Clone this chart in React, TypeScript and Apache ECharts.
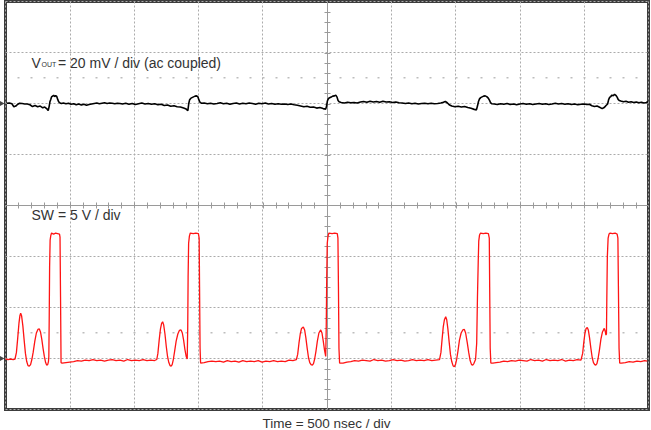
import React, { useEffect, useRef } from "react";
import * as echarts from "echarts";

// Time axis: 0..5000 ns (10 div x 500 ns)
const TIME_MIN = 0;
const TIME_MAX = 5000;
const TIME_DIV = 500;

// SW axis: 5 V/div, ground 1 div above bottom
const SW_MIN = -5;
const SW_MAX = 35;
const SW_DIV = 5;

// VOUT axis: 20 mV/div, ground 2 div below top
const VOUT_MIN = -120;
const VOUT_MAX = 40;
const VOUT_DIV = 20;

const LABEL_VOUT_MAIN = "V";
const LABEL_VOUT_SUB = "OUT";
const LABEL_VOUT_REST = "= 20 mV / div (ac coupled)";
const LABEL_SW = "SW = 5 V / div";
const LABEL_TIME = "Time = 500 nsec / div";

// [time ns, volts]
const swTrace: number[][] = [
  [0, -0.05], [20, -0.1], [40, -0.05], [60, -0.1], [74, -0.05],
  [85, 0.6], [95, 2.0], [105, 3.5], [112, 4.2], [118, 4.45], [125, 4.2], [135, 3.2], [145, 1.8], [155, 0.5],
  [165, -0.3], [175, -0.7], [185, -0.75], [195, -0.6], [205, -0.1], [215, 0.6], [228, 1.7], [240, 2.5],
  [252, 2.85], [263, 2.9], [272, 2.6], [282, 1.9], [292, 1.0], [302, 0.2], [312, -0.4], [320, -0.65],
  [328, -0.6], [334, -0.3],
  [337, 0.2], [340, 4.0], [343, 9.0], [347, 11.6], [352, 12.05], [358, 12.3], [375, 12.2], [390, 12.3],
  [405, 12.25], [420, 12.2], [424, 11.9], [428, 6.0], [432, -0.4],
  [440, -0.45], [470, -0.4], [500, -0.35], [530, -0.3], [560, -0.2], [590, -0.25], [620, -0.15], [650, -0.2],
  [680, -0.1], [710, -0.2], [740, -0.15], [770, -0.25], [800, -0.15], [830, -0.1], [860, -0.2], [890, -0.15],
  [920, -0.25], [950, -0.1], [980, -0.2], [1010, -0.15], [1040, -0.2], [1070, -0.1], [1100, -0.2],
  [1130, -0.15], [1160, -0.2], [1176, -0.1],
  [1185, 0.5], [1195, 1.8], [1205, 2.9], [1214, 3.45], [1222, 3.6], [1230, 3.3], [1240, 2.4], [1250, 1.2],
  [1260, 0.2], [1270, -0.4], [1280, -0.7], [1288, -0.75], [1296, -0.6], [1305, -0.1], [1315, 0.7],
  [1327, 1.7], [1340, 2.4], [1352, 2.75], [1365, 2.8], [1375, 2.5], [1385, 1.8], [1395, 0.9], [1405, 0.2],
  [1413, -0.05],
  [1417, 3.0], [1420, 8.0], [1424, 11.3], [1430, 12.0], [1437, 12.3], [1460, 12.25], [1480, 12.3],
  [1500, 12.25], [1506, 11.8], [1509, 7.0], [1513, 1.0], [1517, -0.45],
  [1520, -0.45], [1545, -0.4], [1575, -0.3], [1605, -0.25], [1635, -0.3], [1665, -0.25], [1695, -0.35],
  [1725, -0.2], [1755, -0.3], [1785, -0.25], [1815, -0.35], [1845, -0.2], [1875, -0.3], [1905, -0.25],
  [1935, -0.3], [1965, -0.2], [1995, -0.35], [2025, -0.25], [2055, -0.3], [2085, -0.2], [2115, -0.3],
  [2145, -0.25], [2175, -0.3], [2205, -0.15], [2235, -0.2], [2262, -0.1],
  [2272, 0.4], [2282, 1.5], [2292, 2.4], [2302, 2.95], [2316, 3.1], [2326, 2.8], [2336, 2.0], [2346, 1.0],
  [2356, 0.1], [2366, -0.4], [2376, -0.6], [2386, -0.65], [2395, -0.5], [2404, -0.05], [2414, 0.7],
  [2425, 1.7], [2437, 2.5], [2451, 2.8], [2461, 2.5], [2471, 1.7], [2481, 0.8], [2490, 0.2],
  [2494, 3.0], [2498, 8.0], [2502, 11.3], [2508, 12.0], [2515, 12.3], [2540, 12.25], [2560, 12.3],
  [2580, 12.25], [2585, 11.8], [2589, 7.0], [2593, 1.0], [2598, -0.45],
  [2625, -0.45], [2655, -0.35], [2685, -0.3], [2715, -0.2], [2745, -0.25], [2775, -0.15], [2805, -0.2],
  [2835, -0.25], [2865, -0.1], [2895, -0.2], [2925, -0.15], [2955, -0.25], [2985, -0.2], [3015, -0.1],
  [3045, -0.2], [3075, -0.15], [3105, -0.25], [3135, -0.2], [3165, -0.1], [3195, -0.2], [3225, -0.15],
  [3255, -0.2], [3285, -0.1], [3315, -0.2], [3345, -0.15], [3375, -0.1],
  [3386, 0.6], [3395, 1.9], [3404, 3.1], [3413, 3.8], [3423, 4.1], [3431, 3.8], [3440, 2.9], [3450, 1.6],
  [3460, 0.4], [3470, -0.3], [3480, -0.7], [3490, -0.8], [3499, -0.6], [3508, -0.1], [3518, 0.7],
  [3530, 1.8], [3543, 2.5], [3556, 2.8], [3568, 2.85], [3578, 2.5], [3590, 1.6], [3602, 0.6], [3613, -0.2],
  [3624, -0.6], [3633, -0.65], [3642, -0.5], [3655, -0.1], [3664, 1.5],
  [3670, 6.0], [3676, 9.5], [3680, 11.5], [3686, 12.1], [3694, 12.3], [3715, 12.25], [3735, 12.3],
  [3755, 12.25], [3762, 11.8], [3765, 7.0], [3769, 1.0], [3774, -0.45],
  [3790, -0.45], [3815, -0.4], [3845, -0.35], [3875, -0.25], [3905, -0.3], [3935, -0.2], [3965, -0.25],
  [3995, -0.15], [4025, -0.2], [4055, -0.25], [4085, -0.1], [4115, -0.2], [4145, -0.15], [4175, -0.25],
  [4205, -0.1], [4235, -0.2], [4265, -0.15], [4295, -0.2], [4325, -0.1], [4355, -0.25], [4385, -0.15],
  [4415, -0.2], [4445, -0.1], [4475, -0.15],
  [4488, 0.5], [4497, 1.6], [4506, 2.5], [4515, 2.95], [4524, 3.05], [4532, 2.8], [4542, 2.0], [4552, 1.0],
  [4562, 0.1], [4572, -0.4], [4582, -0.6], [4590, -0.65], [4599, -0.5], [4608, 0.0], [4618, 0.8],
  [4630, 1.9], [4642, 2.6], [4656, 2.95], [4663, 2.7], [4669, 2.3], [4673, 2.4],
  [4676, 6.0], [4680, 10.0], [4686, 11.8], [4693, 12.2], [4702, 12.3], [4720, 12.25], [4740, 12.3],
  [4756, 12.2], [4762, 11.8], [4766, 7.0], [4771, 1.0], [4776, -0.45],
  [4790, -0.45], [4820, -0.4], [4850, -0.3], [4880, -0.35], [4910, -0.25], [4940, -0.3], [4970, -0.2],
  [4990, -0.25],
];

// [time ns, millivolts]
const voutTrace: number[][] = [
  [10, 0.1], [30, 0.2], [50, -0.1], [65, -1.3], [80, -1.0], [95, -0.3], [110, 0.1], [130, 0.0], [150, -0.2],
  [170, -0.2], [190, -0.5], [210, -1.2], [230, -0.8], [250, -1.3], [270, -1.0], [290, -1.7], [305, -1.4],
  [320, -2.0], [332, -2.8],
  [340, -1.0], [346, 0.8], [352, 1.6], [358, 2.6], [366, 2.9], [374, 3.2], [382, 2.7], [390, 3.1],
  [398, 2.8], [406, 1.6], [414, 0.6], [424, 0.2], [435, 0.0],
  [450, 0.2], [470, -0.1], [490, 0.1], [510, -0.3], [530, -0.1], [550, -0.5], [570, -0.2], [590, -0.6],
  [610, -0.3], [630, -0.7], [650, -0.4], [670, -0.2], [690, 0.0], [710, 0.2], [730, -0.1], [750, 0.1],
  [770, 0.3], [790, 0.0], [810, 0.2], [830, 0.1], [850, -0.1], [870, 0.1], [890, 0.0],
  [910, -0.2], [935, 0.1], [960, -0.3], [985, 0.0], [1010, -0.4], [1035, -0.1], [1060, 0.2], [1085, -0.2],
  [1110, 0.0], [1135, -0.3], [1160, -0.1], [1185, -0.5], [1210, -0.3], [1235, -0.8], [1260, -0.6],
  [1285, -1.1], [1310, -0.9], [1335, -1.3], [1360, -1.4], [1385, -1.8], [1405, -2.2], [1418, -2.8],
  [1425, 0.0], [1432, 1.5], [1440, 2.0], [1450, 2.3], [1462, 2.6], [1474, 2.9], [1486, 3.0], [1496, 2.6],
  [1504, 1.4], [1512, 0.5], [1522, 0.1],
  [1545, 0.2], [1570, -0.1], [1595, 0.1], [1620, -0.2], [1645, 0.0], [1670, 0.3], [1695, -0.1],
  [1720, 0.1], [1745, -0.3], [1770, 0.0], [1795, 0.2], [1820, -0.2], [1845, 0.1], [1870, -0.1],
  [1895, 0.2], [1920, 0.0], [1945, -0.3], [1970, 0.1], [1995, -0.1], [2020, 0.2], [2045, -0.2],
  [2070, 0.0], [2095, -0.3], [2120, -0.1], [2145, -0.3],
  [2170, -0.2], [2195, -0.4], [2220, -0.2], [2245, -0.5], [2270, -0.7], [2295, -1.0], [2320, -1.3],
  [2345, -1.1], [2370, -1.5], [2395, -1.4], [2420, -1.8], [2445, -1.6], [2470, -2.0], [2490, -2.2],
  [2497, -1.0], [2503, 1.0], [2510, 1.8], [2520, 2.3], [2532, 2.5], [2545, 2.9], [2558, 3.0], [2568, 3.3],
  [2578, 2.5], [2586, 1.2], [2594, 0.7],
  [2610, 0.4], [2635, 0.2], [2660, 0.5], [2685, 0.3], [2710, 0.4], [2735, 0.2], [2760, 0.6], [2785, 0.8],
  [2810, 0.5], [2835, 0.9], [2860, 0.6], [2885, 0.8], [2910, 0.5], [2935, 0.9], [2960, 0.6], [2985, 0.7],
  [3010, 0.4], [3035, 0.6], [3060, 0.3], [3085, 0.2], [3110, 0.0], [3135, 0.2], [3160, -0.1], [3185, 0.1],
  [3210, -0.2], [3235, 0.0], [3260, 0.1], [3285, -0.1], [3310, 0.1], [3335, -0.1], [3360, 0.0],
  [3385, 0.2], [3405, 0.5], [3420, 0.8], [3435, 0.3], [3450, -0.5], [3470, -1.0], [3495, -1.3],
  [3520, -1.1], [3545, -1.4], [3570, -1.2], [3595, -1.6], [3620, -1.9], [3645, -2.3], [3662, -2.5],
  [3670, -1.0], [3678, 0.8], [3686, 1.8], [3695, 2.3], [3706, 2.6], [3718, 2.9], [3730, 3.0], [3742, 2.7],
  [3754, 2.1], [3764, 1.2], [3772, 0.3], [3782, -0.1],
  [3800, -0.2], [3825, -0.4], [3850, -0.1], [3875, -0.3], [3900, 0.0], [3925, -0.4], [3950, -0.2],
  [3975, -0.5], [4000, -0.2], [4025, 0.0], [4050, -0.3], [4075, -0.1], [4100, -0.4], [4125, -0.2],
  [4150, 0.0], [4175, -0.3], [4200, -0.1], [4225, -0.4], [4250, -0.2], [4275, 0.1], [4300, -0.2],
  [4325, 0.0], [4350, -0.3], [4375, -0.1], [4400, -0.4], [4425, -0.2], [4450, -0.5], [4475, -0.3],
  [4500, -0.2], [4520, -0.4],
  [4540, -0.3], [4560, -0.9], [4580, -1.2], [4600, -1.0], [4620, -1.5], [4640, -2.0], [4655, -1.6],
  [4670, -0.8], [4682, -0.2], [4690, 1.5], [4698, 2.4], [4706, 2.7], [4716, 3.3], [4726, 3.0], [4736, 3.6],
  [4746, 3.2], [4756, 2.5], [4764, 1.6], [4772, 1.2], [4785, 1.0], [4805, 0.7], [4825, 0.9], [4845, 0.5],
  [4865, 0.7], [4885, 0.4], [4905, 0.6], [4925, 0.3], [4945, 0.5], [4965, 0.2], [4985, 0.4], [4995, 0.8],
];

const GRID_LEFT = 5.5;
const GRID_TOP = 1.5;
const GRID_W = 643;
const GRID_H = 408;
const FONT = '"Liberation Sans", Arial, sans-serif';
const TEXT_COLOR = "#333333";

function buildGraphic() {
  const els: any[] = [];
  const cx = GRID_LEFT + GRID_W / 2 + 0.5;
  const cy = GRID_TOP + GRID_H / 2;
  const axisColor = "#9a9a9a";
  els.push({
    type: "line", silent: true, z: 1,
    shape: { x1: cx, y1: GRID_TOP, x2: cx, y2: GRID_TOP + GRID_H },
    style: { stroke: axisColor, lineWidth: 1 },
  });
  els.push({
    type: "line", silent: true, z: 1,
    shape: { x1: GRID_LEFT, y1: cy, x2: GRID_LEFT + GRID_W, y2: cy },
    style: { stroke: axisColor, lineWidth: 1 },
  });
  for (let k = 1; k < 50; k++) {
    if (k === 25) continue;
    const x = Math.round(GRID_LEFT + (k * GRID_W) / 50) + 0.5;
    els.push({
      type: "line", silent: true, z: 1,
      shape: { x1: x, y1: cy - 3, x2: x, y2: cy + 3 },
      style: { stroke: axisColor, lineWidth: 1 },
    });
    [GRID_TOP + 1.5 * (GRID_H / 8), GRID_TOP + 6.5 * (GRID_H / 8)].forEach((yy) => {
      els.push({
        type: "rect", silent: true, z: 1,
        shape: { x: x - 1, y: Math.round(yy) - 1, width: 2, height: 1.5 },
        style: { fill: "#bdbdbd" },
      });
    });
  }
  for (let k = 1; k < 40; k++) {
    if (k === 20) continue;
    const y = Math.round(GRID_TOP + (k * GRID_H) / 40) + 0.5;
    els.push({
      type: "line", silent: true, z: 1,
      shape: { x1: cx - 3, y1: y, x2: cx + 3, y2: y },
      style: { stroke: axisColor, lineWidth: 1 },
    });
  }
  // ground markers
  const g1 = GRID_TOP + 2 * (GRID_H / 8);
  const g2 = GRID_TOP + 7 * (GRID_H / 8);
  [g1, g2].forEach((g) => {
    els.push({
      type: "polygon", silent: true, z: 5,
      shape: { points: [[0, g - 2.5], [4.5, g], [0, g + 2.5]] },
      style: { fill: "#444444" },
    });
  });
  const txt = (text: string, x: number, y: number, size: number, align = "left") => ({
    type: "text", silent: true, z: 10,
    x, y,
    style: { text, fill: TEXT_COLOR, font: `${size}px ${FONT}`, align, verticalAlign: "top" },
  });
  els.push(txt(LABEL_VOUT_MAIN, 31.5, 56, 14));
  els.push(txt(LABEL_VOUT_SUB, 41.5, 60.5, 7));
  els.push(txt(LABEL_VOUT_REST, 58, 56, 14));
  els.push(txt(LABEL_SW, 31.5, 208, 14));
  els.push(txt(LABEL_TIME, 326.5, 416.5, 13.5, "center"));
  return els;
}

export default function App() {
  const ref = useRef<HTMLDivElement>(null);
  useEffect(() => {
    if (!ref.current) return;
    const chart = echarts.init(ref.current, null, { renderer: "svg" });
    const dotted = { type: [2, 2] as any, color: "#ababab", width: 1 };
    chart.setOption({
      animation: false,
      backgroundColor: "#ffffff",
      grid: {
        left: GRID_LEFT, top: GRID_TOP, width: GRID_W, height: GRID_H,
        show: true, borderColor: "#3c3c3c", borderWidth: 3, backgroundColor: "#ffffff",
      },
      xAxis: {
        type: "value", min: TIME_MIN, max: TIME_MAX, interval: TIME_DIV,
        axisLine: { show: false }, axisTick: { show: false }, axisLabel: { show: false },
        splitLine: { show: true, lineStyle: dotted },
      },
      yAxis: [
        {
          type: "value", min: SW_MIN, max: SW_MAX, interval: SW_DIV,
          axisLine: { show: false }, axisTick: { show: false }, axisLabel: { show: false },
          splitLine: { show: true, lineStyle: dotted },
        },
        {
          type: "value", min: VOUT_MIN, max: VOUT_MAX, interval: VOUT_DIV,
          axisLine: { show: false }, axisTick: { show: false }, axisLabel: { show: false },
          splitLine: { show: false },
        },
      ],
      series: [
        {
          name: "SW", type: "line", yAxisIndex: 0, data: swTrace, showSymbol: false,
          lineStyle: { color: "#ff1414", width: 1.3 }, z: 3,
        },
        {
          name: "VOUT", type: "line", yAxisIndex: 1, data: voutTrace, showSymbol: false,
          lineStyle: { color: "#000000", width: 1.6 }, z: 4,
        },
      ],
      graphic: buildGraphic(),
    });
    return () => chart.dispose();
  }, []);
  return (
    <div
      ref={ref}
      style={{ position: "fixed", left: 0, top: 0, width: 651, height: 430, background: "#fff" }}
    />
  );
}
